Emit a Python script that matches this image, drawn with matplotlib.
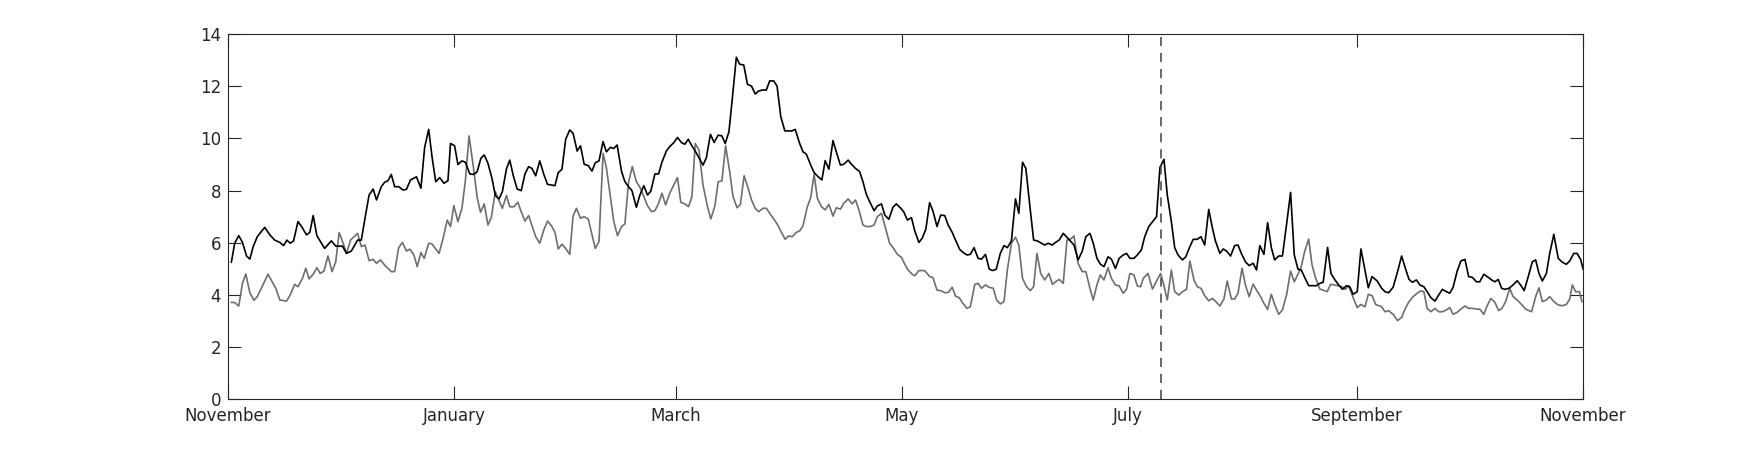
import datetime as dt
import matplotlib
matplotlib.use("Agg")
import matplotlib.pyplot as plt
import matplotlib.dates as mdates

start = dt.date(2019, 11, 1)
end = dt.date(2020, 11, 1)
event = dt.date(2020, 7, 10)

# day offsets from start
black_days = [0.9, 1.8, 2.9, 3.9, 5.0, 5.9, 6.8, 7.9, 9.9, 11.3, 12.6, 14.0, 15.0, 15.9, 16.8, 17.7,
              18.9, 20.0, 21.2, 22.1, 23.0, 24.0, 26.1, 27.9, 29.1, 30.9, 32.0, 33.3, 35.0, 36.0,
              37.0, 38.1, 39.2, 40.1, 41.4, 42.3, 43.2, 44.1, 45.0, 46.1, 47.3, 48.2, 49.3, 50.9,
              52.1, 53.1, 54.2, 55.1, 56.1, 57.2, 58.3, 59.4, 60.1, 61.2, 62.1, 63.2, 64.1, 65.3,
              66.4, 67.3, 68.3, 69.2, 70.2, 71.3, 72.2, 73.2, 74.1, 75.2, 76.1, 77.0, 78.1, 79.2,
              80.2, 81.2, 82.1, 83.1, 84.2, 85.3, 86.3, 88.3, 89.2, 90.2, 91.2, 92.3, 93.2, 94.3,
              95.2, 96.2, 97.3, 98.3, 99.2, 100.2, 101.3, 102.2, 103.3, 104.2, 105.1, 106.3, 107.2,
              108.2, 109.1, 110.3, 111.2, 112.3, 113.3, 114.2, 115.3, 116.3, 117.2, 118.4, 119.3,
              120.4, 121.4, 122.5, 123.4, 124.3, 125.3, 126.3, 127.2, 128.3, 129.2, 130.3, 131.3,
              132.4, 133.4, 134.3, 135.3, 136.4, 137.3, 138.2, 139.3, 140.3, 141.4, 142.4, 143.3,
              144.3, 145.4, 146.3, 147.4, 148.3, 149.3, 150.4, 152.3, 153.2, 154.4, 155.3, 156.2,
              157.4, 158.3, 159.4, 160.4, 161.3, 162.3, 163.4, 164.3, 165.4, 166.3, 167.5, 168.4,
              169.5, 170.6, 171.5, 172.4, 173.3, 174.5, 175.4, 176.5, 177.4, 178.5, 179.6, 180.5,
              181.6, 182.5, 183.5, 184.6, 185.5, 186.6, 187.5, 188.5, 189.5, 190.4, 191.5, 192.5,
              193.6, 194.5, 195.6, 196.5, 197.6, 198.5, 199.6, 200.5, 201.5, 202.6, 203.5, 204.6,
              205.6, 206.5, 207.5, 208.6, 209.6, 210.5, 211.6, 212.7, 213.6, 214.6, 215.5, 216.6,
              217.6, 218.6, 219.7, 220.6, 221.5, 222.6, 223.5, 224.5, 225.6, 226.6, 228.5, 229.6,
              230.7, 231.7, 232.8, 233.7, 234.7, 235.6, 236.6, 237.7, 238.6, 239.7, 240.7, 241.8,
              242.7, 243.6, 244.7, 245.6, 246.7, 247.6, 248.7, 249.6, 250.8, 251.7, 252.8, 253.7,
              254.8, 255.7, 256.6, 257.8, 258.7, 259.8, 260.7, 261.8, 262.8, 263.8, 264.9, 265.8,
              266.7, 267.9, 268.8, 269.7, 270.8, 271.9, 272.8, 273.7, 274.8, 275.8, 276.9, 277.8,
              278.7, 279.8, 280.8, 281.8, 282.7, 283.8, 284.8, 285.9, 287.0, 288.0, 289.0, 289.9,
              291.0, 291.9, 293.1, 294.0, 294.9, 295.8, 297.0, 297.9, 299.0, 300.0, 301.0, 302.1,
              303.0, 303.9, 305.0, 306.0, 307.1, 308.0, 309.0, 310.4, 311.6, 312.5, 313.5, 314.7,
              315.9, 317.0, 318.0, 319.0, 319.9, 321.0, 321.9, 323.0, 323.9, 324.9, 326.0, 327.0,
              328.0, 329.1, 330.0, 330.9, 332.0, 333.0, 334.1, 335.1, 336.1, 337.2, 338.1, 339.2,
              340.4, 341.3, 342.2, 343.1, 344.0, 344.9, 346.0, 347.1, 348.2, 349.1, 350.1, 351.2,
              352.3, 353.2, 354.1, 355.0, 356.1, 357.0, 358.1, 359.3, 360.4, 361.5, 362.4, 363.5,
              364.4, 365.4, 366.0]
black_vals = [5.25, 5.98, 6.27, 6.01, 5.49, 5.37, 5.85, 6.23, 6.59, 6.30, 6.10, 6.01, 5.89, 6.10, 5.98, 6.07,
              6.81, 6.59, 6.30, 6.40, 7.04, 6.27, 5.78, 6.07, 5.87, 5.87, 5.59, 5.68, 6.10, 6.10,
              6.94, 7.83, 8.06, 7.64, 8.15, 8.32, 8.38, 8.62, 8.15, 8.15, 8.02, 8.05, 8.41, 8.53,
              8.09, 9.65, 10.35, 9.30, 8.34, 8.50, 8.28, 8.38, 9.81, 9.72, 9.00, 9.14, 9.09, 8.64,
              8.62, 8.73, 9.24, 9.37, 9.05, 8.47, 7.81, 7.68, 7.96, 8.83, 9.17, 8.60, 8.06, 8.00,
              8.64, 8.92, 8.85, 8.57, 9.14, 8.62, 8.24, 8.19, 8.69, 8.82, 9.97, 10.33, 10.20, 9.52,
              9.72, 9.01, 8.96, 8.75, 9.07, 9.14, 9.88, 9.49, 9.66, 9.62, 9.75, 8.73, 8.34,
              8.15, 8.00, 7.36, 7.81, 8.19, 7.83, 7.98, 8.64, 8.64, 9.09, 9.52, 9.69,
              9.84, 10.04, 9.84, 9.78, 9.97, 9.72, 9.49, 9.26, 8.98, 9.26, 10.16, 9.85,
              10.13, 10.10, 9.81, 10.26, 11.80, 13.12, 12.85, 12.82, 12.08, 12.01, 11.71, 11.82,
              11.86, 11.86, 12.21, 12.21, 12.01, 10.84, 10.29, 10.29, 10.35, 9.81, 9.49, 9.40,
              8.98, 8.69, 8.53, 8.41, 9.15, 8.82, 9.92, 9.49, 8.98, 9.01, 9.17, 9.01,
              8.85, 8.73, 8.34, 7.86, 7.58, 7.23, 7.41, 7.49, 7.06, 6.90, 7.36, 7.49,
              7.34, 7.19, 6.87, 6.96, 6.45, 6.01, 6.17, 6.53, 7.54, 7.22, 6.62, 7.06,
              7.04, 6.68, 6.40, 6.10, 5.75, 5.63, 5.53, 5.55, 5.81, 5.40, 5.37, 5.55,
              4.99, 4.93, 4.98, 5.59, 5.89, 5.81, 6.07, 7.68, 7.13, 9.09, 8.85, 7.38,
              6.10, 6.07, 5.98, 5.91, 5.98, 5.91, 6.01, 6.10, 6.36, 6.21, 5.91, 5.34,
              5.66, 6.23, 6.36, 5.98, 5.40, 5.18, 5.08, 5.46, 5.37, 5.01, 5.40, 5.53,
              5.59, 5.40, 5.40, 5.53, 5.72, 6.23, 6.62, 6.78, 7.00, 8.88, 9.20, 7.83,
              6.81, 5.81, 5.53, 5.34, 5.46, 5.85, 6.13, 6.13, 6.23, 5.91, 7.28, 6.62,
              6.07, 5.59, 5.76, 5.68, 5.49, 5.89, 5.91, 5.59, 5.27, 5.12, 5.21, 4.95,
              5.89, 5.55, 6.77, 5.81, 5.34, 5.49, 5.49, 6.68, 7.93, 5.53, 4.98, 4.95,
              4.61, 4.35, 4.35, 4.35, 4.44, 4.48, 5.82, 4.82, 4.57, 4.38, 4.21, 4.35,
              4.31, 4.02, 4.12, 5.76, 4.95, 4.27, 4.70, 4.53, 4.25, 4.12, 4.08, 4.29,
              4.89, 5.49, 5.02, 4.59, 4.48, 4.57, 4.38, 4.31, 4.12, 3.89, 3.76, 3.99,
              4.21, 4.12, 4.06, 4.29, 4.91, 5.30, 5.36, 4.70, 4.67, 4.50, 4.50, 4.79,
              4.67, 4.57, 4.50, 4.59, 4.25, 4.21, 4.25, 4.38, 4.54, 4.38, 4.16, 4.70,
              5.27, 5.34, 4.82, 4.53, 4.82, 5.59, 6.32, 5.40, 5.25, 5.17, 5.30, 5.59,
              5.59, 5.34, 4.99]

gray_days = [0.9, 1.8, 2.9, 3.9, 4.8, 5.9, 7.0, 7.9, 9.0, 10.8, 12.9, 14.0, 15.8, 16.7, 18.0, 18.9,
             20.1, 21.0, 21.9, 23.0, 24.0, 24.9, 25.9, 27.0, 28.1, 29.1, 30.0, 31.1, 32.0, 33.1,
             35.0, 36.0, 37.0, 38.1, 39.2, 40.1, 41.2, 42.3, 44.1, 45.0, 46.1, 47.1, 48.2, 49.1,
             50.2, 51.1, 52.1, 53.0, 54.2, 55.1, 57.0, 58.1, 59.2, 60.1, 61.0, 62.1, 63.2, 64.1,
             65.1, 66.2, 67.3, 68.2, 69.2, 70.2, 71.1, 72.2, 73.2, 74.1, 75.2, 76.1, 77.2, 78.3,
             79.1, 80.2, 81.2, 82.2, 83.1, 84.2, 85.3, 86.3, 87.4, 88.3, 89.2, 90.2, 91.2, 92.3,
             93.2, 94.1, 95.2, 96.2, 97.3, 99.2, 100.2, 101.3, 102.2, 103.1, 104.2, 105.2, 106.3,
             107.2, 108.2, 109.2, 110.3, 111.4, 112.3, 113.3, 114.4, 115.3, 116.3, 117.2, 118.2,
             119.3, 121.4, 122.3, 123.4, 124.4, 125.3, 126.2, 127.2, 128.3, 129.4, 130.4, 131.5,
             132.4, 133.4, 134.4, 135.5, 136.4, 137.5, 138.4, 139.4, 140.5, 141.4, 142.4, 143.3,
             144.5, 145.4, 146.5, 147.4, 148.4, 149.5, 150.5, 151.4, 152.4, 153.5, 154.4, 155.3,
             156.4, 157.4, 158.3, 159.2, 160.3, 161.3, 162.3, 163.4, 164.3, 165.4, 166.3, 167.5,
             168.6, 169.5, 170.4, 171.5, 172.4, 173.5, 174.5, 175.4, 176.5, 177.6, 178.7, 179.8,
             180.8, 181.9, 182.8, 183.7, 184.8, 185.5, 186.6, 188.2, 189.5, 190.4, 191.5, 192.5,
             193.6, 194.5, 195.6, 196.5, 197.5, 198.5, 199.6, 200.5, 201.7, 202.6, 203.5, 204.6,
             205.5, 206.7, 207.6, 208.6, 209.6, 210.5, 211.6, 212.7, 213.6, 214.6, 215.7, 216.7,
             217.6, 218.5, 219.5, 220.6, 221.7, 222.7, 223.5, 224.5, 225.6, 226.6, 227.6, 228.5,
             229.6, 230.7, 231.7, 232.8, 233.7, 234.7, 235.6, 236.6, 237.7, 238.6, 239.7, 240.7,
             241.8, 242.7, 243.6, 244.7, 245.6, 246.5, 247.2, 248.5, 249.7, 250.8, 251.9, 252.8,
             253.7, 254.8, 255.7, 256.8, 257.8, 258.9, 259.8, 260.9, 261.8, 262.8, 263.8, 264.9,
             265.9, 266.8, 267.9, 269.0, 269.9, 271.0, 271.9, 272.8, 273.9, 274.8, 275.8, 276.9,
             277.8, 278.9, 279.8, 280.8, 281.8, 282.7, 283.8, 284.8, 285.9, 287.0, 288.0, 289.0,
             289.9, 290.8, 291.9, 292.8, 293.8, 294.9, 295.8, 296.9, 297.8, 298.8, 299.8, 300.9,
             301.8, 302.7, 303.9, 305.0, 306.0, 307.1, 308.0, 309.0, 310.0, 311.6, 312.5, 313.5,
             314.7, 315.9, 317.0, 318.0, 319.0, 320.1, 321.2, 322.1, 323.0, 323.9, 324.9, 326.0,
             327.0, 328.0, 329.1, 330.0, 330.9, 332.0, 333.0, 334.1, 335.1, 336.1, 337.2, 338.1,
             339.2, 340.1, 341.1, 342.2, 343.2, 344.1, 345.1, 346.2, 347.1, 348.2, 349.4, 350.5,
             352.1, 353.2, 354.1, 355.0, 356.1, 357.0, 358.1, 359.3, 360.4, 361.5, 362.4, 363.1,
             364.0, 365.0, 365.7]
gray_vals = [3.71, 3.70, 3.57, 4.44, 4.80, 4.08, 3.79, 3.93, 4.25, 4.79, 4.25, 3.80, 3.76, 3.97, 4.40, 4.31,
             4.63, 5.02, 4.61, 4.79, 5.04, 4.82, 4.91, 5.49, 4.89, 5.27, 6.39, 5.98, 5.59, 6.10,
             6.36, 5.85, 5.91, 5.31, 5.36, 5.21, 5.34, 5.14, 4.89, 4.89, 5.81, 6.01, 5.68, 5.75,
             5.53, 5.08, 5.62, 5.40, 5.98, 5.95, 5.59, 6.17, 6.87, 6.62, 7.42, 6.81, 7.34, 8.37,
             10.10, 8.98, 7.73, 7.17, 7.49, 6.68, 6.96, 7.96, 7.61, 7.32, 7.81, 7.38, 7.38, 7.55,
             7.22, 6.83, 7.04, 6.62, 6.23, 5.98, 6.49, 6.83, 6.64, 6.40, 5.76, 5.94, 5.78, 5.55,
             7.02, 7.32, 6.94, 7.00, 6.91, 5.78, 6.04, 9.43, 8.88, 7.96, 6.81, 6.27, 6.62,
             6.72, 8.34, 8.92, 8.34, 8.09, 7.77, 7.42, 7.19, 7.23, 7.51, 7.90, 7.45,
             7.90, 8.50, 7.55, 7.49, 7.38, 7.77, 9.81, 9.56, 8.21, 7.45, 6.91, 7.41,
             8.34, 8.37, 9.72, 8.73, 7.77, 7.34, 7.47, 8.57, 8.09, 7.64, 7.32, 7.19,
             7.32, 7.32, 7.09, 6.91, 6.70, 6.39, 6.13, 6.26, 6.23, 6.40, 6.45, 6.65,
             7.34, 7.74, 8.62, 7.70, 7.38, 7.26, 7.47, 7.02, 7.34, 7.29, 7.51, 7.68,
             7.49, 7.64, 7.26, 6.68, 6.62, 6.62, 6.68, 7.00, 7.13, 6.55, 5.98, 5.78,
             5.55, 5.44, 5.17, 4.95, 4.79, 4.73, 4.93, 4.93, 4.70, 4.66, 4.18, 4.16,
             4.08, 4.09, 4.29, 3.95, 3.89, 3.67, 3.48, 3.54, 4.40, 4.44, 4.25, 4.38,
             4.29, 4.25, 3.80, 3.65, 3.74, 4.95, 5.98, 6.21, 5.91, 4.63, 4.31, 4.16,
             4.31, 5.59, 4.82, 4.57, 4.82, 4.40, 4.50, 4.59, 4.44, 6.10, 6.14, 6.26,
             5.21, 4.89, 4.89, 4.25, 3.80, 4.38, 4.76, 4.57, 5.04, 4.63, 4.38, 4.34,
             4.06, 4.21, 4.82, 4.76, 4.34, 4.31, 4.63, 4.82, 4.22, 4.53, 4.82, 4.35,
             3.80, 4.95, 4.12, 3.99, 4.12, 4.21, 5.30, 4.57, 4.31, 4.25, 3.97, 3.77,
             3.86, 3.74, 3.57, 3.84, 4.53, 3.84, 3.84, 4.06, 5.02, 4.38, 3.93, 4.41,
             4.18, 3.93, 3.67, 3.44, 4.02, 3.63, 3.25, 3.42, 3.99, 4.91, 4.50, 4.79,
             5.08, 5.66, 6.14, 5.14, 4.63, 4.22, 4.18, 4.12, 4.40, 4.38, 4.35, 4.31,
             4.21, 4.34, 3.89, 3.51, 3.63, 3.54, 4.02, 3.97, 3.63, 3.54, 3.35, 3.39,
             3.25, 3.01, 3.13, 3.48, 3.74, 3.93, 4.06, 4.15, 4.12, 3.48, 3.35, 3.48,
             3.35, 3.35, 3.42, 3.51, 3.25, 3.33, 3.45, 3.57, 3.48, 3.48, 3.45, 3.45,
             3.25, 3.58, 3.86, 3.71, 3.39, 3.48, 3.74, 4.25, 3.93, 3.80, 3.63, 3.45,
             3.35, 3.93, 4.27, 3.74, 3.80, 3.93, 3.74, 3.61, 3.58, 3.63, 3.84, 4.38,
             4.12, 4.12, 3.74]

month_ticks = [dt.date(2019, 11, 1), dt.date(2020, 1, 1), dt.date(2020, 3, 1), dt.date(2020, 5, 1),
               dt.date(2020, 7, 1), dt.date(2020, 9, 1), dt.date(2020, 11, 1)]
month_labels = ["November", "January", "March", "May", "July", "September", "November"]
y_ticks = [0, 2, 4, 6, 8, 10, 12, 14]

t0 = mdates.date2num(start)
bx = [t0 + d for d in black_days]
gx = [t0 + d for d in gray_days]

fig = plt.figure(figsize=(17.5, 4.5), dpi=100)
ax = fig.add_axes([0.1303, 0.1133, 0.7743, 0.8105])

ax.plot(gx, gray_vals, color="#6e6e6e", lw=1.2)
ax.plot(bx, black_vals, color="black", lw=1.2)
ax.axvline(mdates.date2num(event), color="#404040", lw=1.1, dashes=(6, 4.5))

ax.set_xlim(mdates.date2num(start), mdates.date2num(end))
ax.set_ylim(0, 14)
ax.set_xticks([mdates.date2num(d) for d in month_ticks])
ax.set_xticklabels(month_labels)
ax.set_yticks(y_ticks)

ax.tick_params(direction="in", length=9.5, width=0.8, top=True, right=True,
               labelsize=12, labelcolor="#262626", color="#262626")
ax.tick_params(axis="x", pad=5.5)
ax.tick_params(axis="y", pad=5)
for s in ax.spines.values():
    s.set_linewidth(0.8)
    s.set_color("#262626")

fig.savefig("out.png", dpi=100)
